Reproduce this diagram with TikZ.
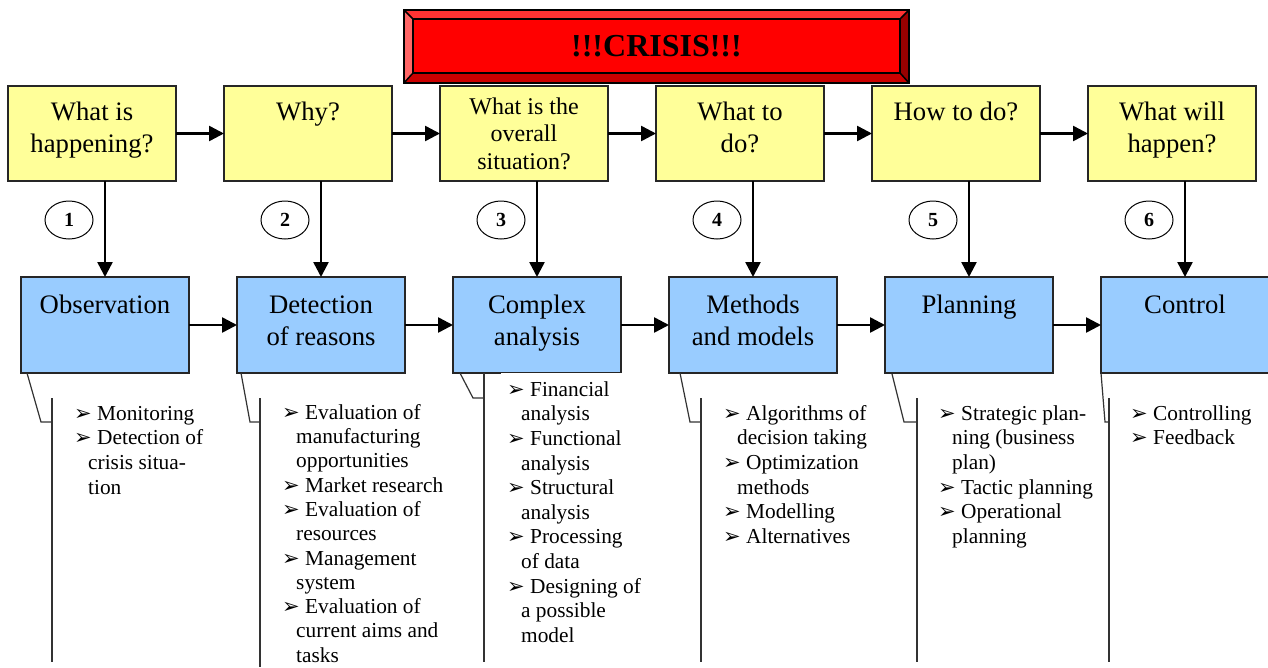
\documentclass[tikz,border=0pt]{standalone}
\usepackage{fontspec}
\setmainfont{Liberation Serif}
\newfontfamily\dejavu{DejaVu Sans}
\usetikzlibrary{arrows.meta,shapes.geometric,calc}
\definecolor{ybg}{HTML}{FFFF99}
\definecolor{bbg}{HTML}{99CCFF}
\definecolor{bevT}{HTML}{FF3333}
\definecolor{bevL}{HTML}{FF6666}
\definecolor{bevR}{HTML}{990000}
\definecolor{bevB}{HTML}{CC0000}
\definecolor{face}{HTML}{FF0000}
\newcommand\bl{\makebox[23pt][l]{{\dejavu\fontsize{21}{21}\selectfont ➢}}}
\newcommand\ind{\hspace*{14pt}}
\newcommand\tstrut[1]{\rule{0pt}{#1}}
\tikzset{
  ybox/.style={draw=black!85, line width=1.5pt, fill=ybg, minimum width=168pt, minimum height=95pt, inner sep=0pt, outer sep=0pt, anchor=north west},
  bbox/.style={draw=black!85, line width=1.5pt, fill=bbg, minimum width=168pt, minimum height=96pt, inner sep=0pt, outer sep=0pt, anchor=north west},
  qtext/.style={font=\fontsize{26.7}{32}\selectfont, align=center, anchor=north, inner sep=0pt},
  qsmall/.style={font=\fontsize{24}{27.5}\selectfont, align=center, anchor=north, inner sep=0pt},
  flow/.style={line width=2.5pt, -{Triangle[length=15pt,width=15pt]}},
  num/.style={ellipse, draw, line width=1pt, fill=white, minimum width=48pt, minimum height=38pt, inner sep=0pt, font=\fontsize{20}{20}\selectfont\bfseries},
  call/.style={line width=1.2pt, draw=black!80},
  blist/.style={font=\fontsize{21.33}{24.6}\selectfont, align=left, anchor=north west, inner sep=0pt},
  bev/.style={draw=black, line width=1.5pt, line join=miter},
}
\begin{document}
\begin{tikzpicture}[x=1pt,y=-1pt]
\useasboundingbox (0,0) rectangle (1268,667);
\clip (0,0) rectangle (1268,667);
\fill[white] (0,0) rectangle (1268,667);

% Crisis bevelled box
\fill[bevT] (404,10) -- (909,10) -- (900,19) -- (413,19) -- cycle;
\fill[bevB] (404,83) -- (909,83) -- (900,73) -- (413,73) -- cycle;
\fill[bevL] (404,10) -- (413,19) -- (413,73) -- (404,83) -- cycle;
\fill[bevR] (909,10) -- (900,19) -- (900,73) -- (909,83) -- cycle;
\node[draw=black, line width=1.5pt, fill=face, minimum width=487pt, minimum height=54pt, inner sep=0pt,
      font=\fontsize{32}{32}\selectfont\bfseries] (crisis) at (656.5,46) {!!!CRISIS!!!};
\draw[bev] (404,10) rectangle (909,83);
\draw[bev] (404,10) -- (crisis.north west);
\draw[bev] (909,10) -- (crisis.north east);
\draw[bev] (404,83) -- (crisis.south west);
\draw[bev] (909,83) -- (crisis.south east);

% Question boxes
\node[ybox] (q1) at (8,86) {};
\node[ybox] (q2) at (224,86) {};
\node[ybox] (q3) at (440,86) {};
\node[ybox] (q4) at (656,86) {};
\node[ybox] (q5) at (872,86) {};
\node[ybox] (q6) at (1088,86) {};
\node[qtext] (q1t) at (92,95.7) {\tstrut{25pt}What is\\happening?};
\node[qtext] (q2t) at (308,95.7) {\tstrut{25pt}Why?};
\node[qsmall] (q3t) at (524,89.2) {\tstrut{25pt}What is the\\overall\\situation?};
\node[qtext] (q4t) at (740,95.7) {\tstrut{25pt}What to\\do?};
\node[qtext] (q5t) at (956,95.7) {\tstrut{25pt}How to do?};
\node[qtext] (q6t) at (1172,95.7) {\tstrut{25pt}What will\\happen?};

% Stage boxes
\node[bbox] (b1) at (21,277) {};
\node[bbox] (b2) at (237,277) {};
\node[bbox] (b3) at (453,277) {};
\node[bbox] (b4) at (669,277) {};
\node[bbox] (b5) at (885,277) {};
\node[bbox] (b6) at (1101,277) {};
\node[qtext] (b1t) at (105,288.7) {\tstrut{25pt}Observation};
\node[qtext] (b2t) at (321,288.7) {\tstrut{25pt}Detection\\of reasons};
\node[qtext] (b3t) at (537,288.7) {\tstrut{25pt}Complex\\analysis};
\node[qtext] (b4t) at (753,288.7) {\tstrut{25pt}Methods\\and models};
\node[qtext] (b5t) at (969,288.7) {\tstrut{25pt}Planning};
\node[qtext] (b6t) at (1185,288.7) {\tstrut{25pt}Control};

% top flow
\draw[flow] (q1.east) -- (q2.west);
\draw[flow] (q2.east) -- (q3.west);
\draw[flow] (q3.east) -- (q4.west);
\draw[flow] (q4.east) -- (q5.west);
\draw[flow] (q5.east) -- (q6.west);
% bottom flow
\draw[flow] (b1.east) -- (b2.west);
\draw[flow] (b2.east) -- (b3.west);
\draw[flow] (b3.east) -- (b4.west);
\draw[flow] (b4.east) -- (b5.west);
\draw[flow] (b5.east) -- (b6.west);
% vertical flow
\draw[flow] (q1.south -| b1.north) -- (b1.north);
\draw[flow] (q2.south -| b2.north) -- (b2.north);
\draw[flow] (q3.south -| b3.north) -- (b3.north);
\draw[flow] (q4.south -| b4.north) -- (b4.north);
\draw[flow] (q5.south -| b5.north) -- (b5.north);
\draw[flow] (q6.south -| b6.north) -- (b6.north);

% numbers
\node[num] (n1) at (69,220) {1};
\node[num] (n2) at (285,220) {2};
\node[num] (n3) at (501,220) {3};
\node[num] (n4) at (717,220) {4};
\node[num] (n5) at (933,220) {5};
\node[num] (n6) at (1149,220) {6};

% white area of list 3 overlapping box 3
\fill[white] (501,372.7) rectangle (622,376);

% callout brackets
\draw[call] ($(b1.south west)+(6,0)$) -- (41,422) -- (52,422);
\draw[call] (52,398) -- (52,662);
\draw[call] ($(b2.south west)+(4,0)$) -- (250,422) -- (260,422);
\draw[call] (260,398) -- (260,667);
\draw[call] ($(b3.south west)+(7,0)$) -- (473,398) -- (484,398);
\draw[call] (484,373) -- (484,662);
\draw[call] ($(b4.south west)+(11,0)$) -- (690,422) -- (701,422);
\draw[call] (701,398) -- (701,662);
\draw[call] ($(b5.south west)+(7,1)$) -- (904,422) -- (917,422);
\draw[call] (917,398) -- (917,662);
\draw[call] (b6.south west) -- (1105,422) -- (1109,422);
\draw[call] (1109,398) -- (1109,662);

% lists
\node[blist] (l1) at (74,400) {\tstrut{20pt}\bl Monitoring\\\bl Detection of\\\ind crisis situa-\\\ind tion};
\node[blist, font=\fontsize{21.33}{24.3}\selectfont] (l2) at (282,399) {\tstrut{20pt}\bl Evaluation of\\\ind manufacturing\\\ind opportunities\\\bl Market research\\\bl Evaluation of\\\ind resources\\\bl Management\\\ind system\\\bl Evaluation of\\\ind current aims and\\\ind tasks};
\node[blist] (l3) at (507,376) {\tstrut{20pt}\bl Financial\\\ind analysis\\\bl Functional\\\ind analysis\\\bl Structural\\\ind analysis\\\bl Processing\\\ind of data\\\bl Designing of\\\ind a possible\\\ind model};
\node[blist] (l4) at (723,400) {\tstrut{20pt}\bl Algorithms of\\\ind decision taking\\\bl Optimization\\\ind methods\\\bl Modelling\\\bl Alternatives};
\node[blist] (l5) at (938,400) {\tstrut{20pt}\bl Strategic plan-\\\ind ning (business\\\ind plan)\\\bl Tactic planning\\\bl Operational\\\ind planning};
\node[blist] (l6) at (1130,400) {\tstrut{20pt}\bl Controlling\\\bl Feedback};
\end{tikzpicture}
\end{document}
